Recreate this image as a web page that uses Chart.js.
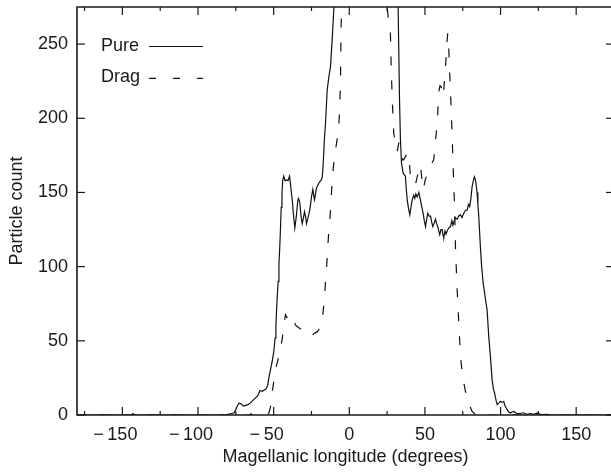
<!DOCTYPE html>
<html>
<head>
<meta charset="utf-8">
<script src="https://cdn.jsdelivr.net/npm/chart.js@4/dist/chart.umd.min.js"></script>
<style>
html,body{margin:0;padding:0;background:#fff;overflow:hidden;width:611px;height:474px}
canvas{display:block}
</style>
</head>
<body>
<canvas id="c" width="624" height="474" style="width:624px;height:474px"></canvas>
<script>
// ---- data ----
const seriesLabels = ['Pure', 'Drag'];

const pureX = [
  -180, -150, -144, -143, -142, -100, -82, -80, -78, -76,
  -74.5, -73, -71.5, -70, -68.5, -67, -65.5, -64, -62, -60.5,
  -59, -57.5, -56, -55, -54, -53, -52, -51, -50, -49,
  -48.5, -48, -47.5, -47, -46.5, -46, -45.5, -45, -44.5, -44,
  -43.3, -42.5, -41.5, -40.5, -39.5, -39, -38.5, -37.7, -37, -36,
  -35, -34, -33.5, -32.7, -31.8, -31.1, -30.3, -29.6, -28.8, -28.3,
  -27.5, -26.8, -26, -25.6, -25, -24.1, -23.5, -23, -22.3, -21.7,
  -20.7, -19.7, -18.8, -17.9, -17.3, -16.5, -15.7, -14.6, -13.5, -12.4,
  -11.3, -10.2, -9.5, -8, -5, 0, 10, 20, 28, 30.5,
  31.5, 32.3, 33.2, 33.8, 34.5, 35.6, 36.3, 37.1, 37.7, 38.3,
  39.2, 40, 40.8, 41.6, 42.6, 43.3, 44, 44.9, 46, 47,
  48, 48.8, 49.6, 50.4, 51.2, 51.9, 52.8, 53.7, 54.5, 55.2,
  56, 57, 57.7, 58.5, 59.2, 59.8, 60.6, 61.4, 62, 62.5,
  63.3, 64, 64.7, 65.7, 66.9, 67.8, 68.5, 69.1, 70, 71.3,
  72.3, 73.5, 74.5, 75.7, 76.8, 77.9, 78.8, 79.6, 80.4, 81.2,
  82, 82.7, 83.5, 84.5, 85, 85.6, 86.7, 87.5, 88.5, 89.5,
  90.3, 91.1, 92.2, 93.3, 94.4, 95.2, 96, 97, 97.8, 98.8,
  99.9, 101, 102.1, 103, 104.4, 105.5, 106.5, 107.5, 108.7, 110,
  111, 113, 115.3, 117, 119.8, 122, 124, 127, 130.8, 133,
  180
];
const pureY = [
  0, 0, 0, 1, 0, 0, 0, 0.5, 1, 1.5,
  5, 8, 7.5, 6, 6.5, 7, 8, 9.5, 11.5, 13,
  16.5, 16, 17, 17.5, 20, 26, 31, 36, 42, 52,
  60, 72, 82, 90, 102, 112, 125, 140, 150, 158,
  161, 158, 158.5, 158, 161, 157, 152, 145, 136, 126,
  134, 145, 146, 143, 133, 129, 133, 137, 133, 129,
  132, 135, 139, 142, 147, 152, 148, 145, 149, 153,
  155, 157, 158, 160, 168, 185, 197, 219, 228, 235,
  253, 274, 290, 320, 400, 560, 640, 560, 400, 320,
  295, 275, 213, 186, 170, 163, 162, 161, 152, 145,
  139, 135, 140, 145, 148, 146, 149, 147, 150, 145,
  140, 136, 131, 127, 132, 136, 134, 134, 130, 127,
  129, 132, 129, 127, 124, 121.5, 125, 125, 121, 120,
  124, 122, 124, 126, 127, 131, 128, 130, 133, 132,
  134, 135, 133, 136, 138, 138, 142, 140.5, 146, 154,
  158, 160.5, 158, 150, 142, 134, 113, 100, 89, 82,
  76, 71, 53, 39.5, 24, 18, 15, 10, 7, 8,
  9.2, 8.5, 9.2, 6, 3.6, 2, 1.3, 2, 2.4, 1.5,
  0.9, 1, 1.5, 0.5, 1, 0.5, 1.3, 0.3, 0.5, 0,
  0
];

const dragX = [
  -180, -120, -66, -65, -64, -56, -54, -53, -52, -51,
  -50, -48.8, -47.7, -46.6, -45.5, -44.4, -43.3, -42.2, -41.4, -40.6,
  -39.5, -38.5, -37.7, -36.2, -35, -33.5, -32.3, -31.1, -30.1, -29,
  -28, -27, -26, -25.2, -24.4, -23.5, -22.3, -21.2, -20.2, -19,
  -17.9, -16.4, -15.1, -13.5, -12.9, -12, -11.3, -10.2, -9.1, -8,
  -6.9, -6.3, -5.8, -5.6, -5.2, -4.5, 0, 10, 20, 24,
  25, 26.1, 27.2, 27.7, 28.4, 29.4, 30.5, 31.2, 31.7, 32.7,
  33.4, 34.2, 35, 36, 37.1, 38.2, 39.3, 39.9, 40.4, 41.5,
  42.6, 43.7, 44.8, 46, 47, 47.9, 48.8, 49.5, 50.3, 51.5,
  52.5, 53.6, 54.7, 55.8, 57, 58.1, 59.2, 60, 60.7, 61.4,
  62.1, 62.8, 63.6, 64.3, 64.7, 65.1, 65.5, 65.8, 66.4, 67.3,
  68, 68.6, 69.1, 69.7, 70.2, 71.3, 72.4, 73.5, 74.6, 75.7,
  77, 78.3, 79.7, 81.2, 82.5, 84.5, 85.5, 86.3, 87, 88.9,
  90, 180
];
const dragY = [
  0, 0, 0, 0.8, 0, 0, 0.5, 1.5, 6, 15,
  22, 30.5, 35, 39.5, 45, 50.7, 60, 67.6, 66, 65.4,
  68, 67, 65.4, 62, 60, 59, 58, 57.5, 55.3, 55,
  54, 54, 53.5, 53.4, 54, 54.8, 55.5, 56, 57.5, 59,
  62, 80, 98, 125, 130, 145, 158.6, 170, 178.8, 186,
  194.4, 210, 223.7, 246, 273, 300, 450, 550, 450, 320,
  275, 265, 257, 235, 212.5, 190, 183, 178, 177.6, 183.3,
  183, 177, 172, 172, 174.3, 176, 176.5, 168, 160.8, 157,
  155, 155.2, 160, 165, 168.6, 160, 152, 155, 159, 162,
  165, 168, 170, 172, 185, 196, 218, 222, 221.4, 218,
  214.7, 224, 235, 245, 253, 257.3, 252, 246, 230, 208,
  188, 170, 154, 138, 113, 84.4, 62, 39.5, 29, 21.6,
  15, 11.5, 6, 2.4, 1, 0.5, 1.5, 2.4, 1.5, 0.5,
  0, 0
];

const xMin = -180, xMax = 175;
const yMin = 0, yMax = 275;
const xTickValues = [-175, -150, -125, -100, -75, -50, -25, 0, 25, 50, 75, 100, 125, 150, 175];
const xLabelValues = [-150, -100, -50, 0, 50, 100, 150];
const xTickLabels = ['\u2212150', '\u2212100', '\u221250', '0', '50', '100', '150'];
const yTickValues = [0, 50, 100, 150, 200, 250];
const yTickLabels = ['0', '50', '100', '150', '200', '250'];
const xTitle = 'Magellanic longitude (degrees)';
const yTitle = 'Particle count';

// ---- styling ----
const FONT = '"Liberation Sans", Arial, Helvetica, sans-serif';
const INK = '#1a1a1a';
const LINE = '#111111';
const DATA_DASH = [9, 15];
const LEGEND_DASH = [7, 17];

function toPoints(xs, ys) { return xs.map((x, i) => ({ x: x, y: ys[i] })); }

const framePlugin = {
  id: 'framePlugin',
  afterDraw(chart) {
    const { ctx, chartArea: a, scales } = chart;
    const x = scales.x, y = scales.y;
    const seg = (x1, y1, x2, y2) => { ctx.beginPath(); ctx.moveTo(x1, y1); ctx.lineTo(x2, y2); ctx.stroke(); };
    ctx.save();
    ctx.strokeStyle = INK;
    ctx.setLineDash([]);
    ctx.lineWidth = 1.6;
    ctx.beginPath();
    ctx.rect(a.left, a.top, a.right - a.left, a.bottom - a.top);
    ctx.stroke();

    // inward tick marks
    ctx.lineWidth = 1.2;
    xTickValues.forEach(v => {
      const px = x.getPixelForValue(v);
      const len = (v % 50 === 0) ? 8 : 4;
      seg(px, a.bottom, px, a.bottom - len);
      seg(px, a.top, px, a.top + len);
    });
    yTickValues.forEach(v => {
      const py = y.getPixelForValue(v);
      seg(a.left, py, a.left + 8, py);
      seg(a.right, py, a.right - 8, py);
    });

    // x tick labels (numeric part centred on the tick, minus sign hanging left)
    ctx.font = '18px ' + FONT;
    ctx.fillStyle = INK;
    ctx.textBaseline = 'alphabetic';
    ctx.textAlign = 'right';
    xLabelValues.forEach((v, i) => {
      const t = xTickLabels[i];
      const neg = t.charAt(0) === '\u2212';
      const digits = neg ? t.slice(1) : t;
      const w = ctx.measureText(digits).width;
      const px = x.getPixelForValue(v);
      ctx.fillText(neg ? '\u2212\u2009' + digits : digits, px + w / 2, a.bottom + 24.5);
    });

    // legend inside the plot, text then line sample
    ctx.textBaseline = 'middle';
    ctx.textAlign = 'left';
    chart.data.datasets.forEach((ds, i) => {
      const yc = a.top + 39.5 + i * 31;
      ctx.fillStyle = INK;
      ctx.fillText(ds.label, a.left + 24, yc);
      ctx.strokeStyle = LINE;
      ctx.lineWidth = 1.2;
      ctx.setLineDash(ds.borderDash && ds.borderDash.length ? LEGEND_DASH : []);
      seg(a.left + 72, yc + (i ? 0.8 : 0), a.left + 126, yc + (i ? 0.8 : 0));
    });
    ctx.restore();
  }
};

new Chart(document.getElementById('c'), {
  type: 'line',
  data: {
    datasets: [
      {
        label: seriesLabels[0],
        data: toPoints(pureX, pureY),
        borderColor: LINE,
        borderWidth: 1.2,
        pointRadius: 0,
        tension: 0,
        fill: false
      },
      {
        label: seriesLabels[1],
        data: toPoints(dragX, dragY),
        borderColor: LINE,
        borderWidth: 1.2,
        borderDash: DATA_DASH,
        pointRadius: 0,
        tension: 0,
        fill: false
      }
    ]
  },
  options: {
    responsive: false,
    animation: false,
    devicePixelRatio: 1,
    layout: { padding: { left: 0, top: 7, right: 10, bottom: 0 } },
    plugins: { legend: { display: false }, tooltip: { enabled: false } },
    scales: {
      x: {
        type: 'linear',
        min: xMin,
        max: xMax,
        grid: { display: false, drawTicks: false },
        border: { display: false },
        ticks: { display: false },
        afterBuildTicks: s => { s.ticks = xTickValues.map(v => ({ value: v })); },
        afterFit: s => { s.height = 59; s.paddingLeft = 0; s.paddingRight = 0; },
        title: {
          display: true,
          text: xTitle,
          color: INK,
          font: { family: FONT, size: 18 },
          padding: { top: 0, bottom: 6 }
        }
      },
      y: {
        type: 'linear',
        min: yMin,
        max: yMax,
        grid: { display: false, drawTicks: false },
        border: { display: false },
        afterBuildTicks: s => { s.ticks = yTickValues.map(v => ({ value: v })); },
        ticks: {
          padding: 9,
          color: INK,
          font: { family: FONT, size: 18 },
          callback: v => { const k = yTickValues.indexOf(v); return k >= 0 ? yTickLabels[k] : ''; }
        },
        afterFit: s => { s.width = 77; s.paddingTop = 0; s.paddingBottom = 0; },
        title: {
          display: true,
          text: yTitle,
          color: INK,
          font: { family: FONT, size: 18 },
          padding: { top: 6, bottom: 0 }
        }
      }
    }
  },
  plugins: [framePlugin]
});
</script>
</body>
</html>
